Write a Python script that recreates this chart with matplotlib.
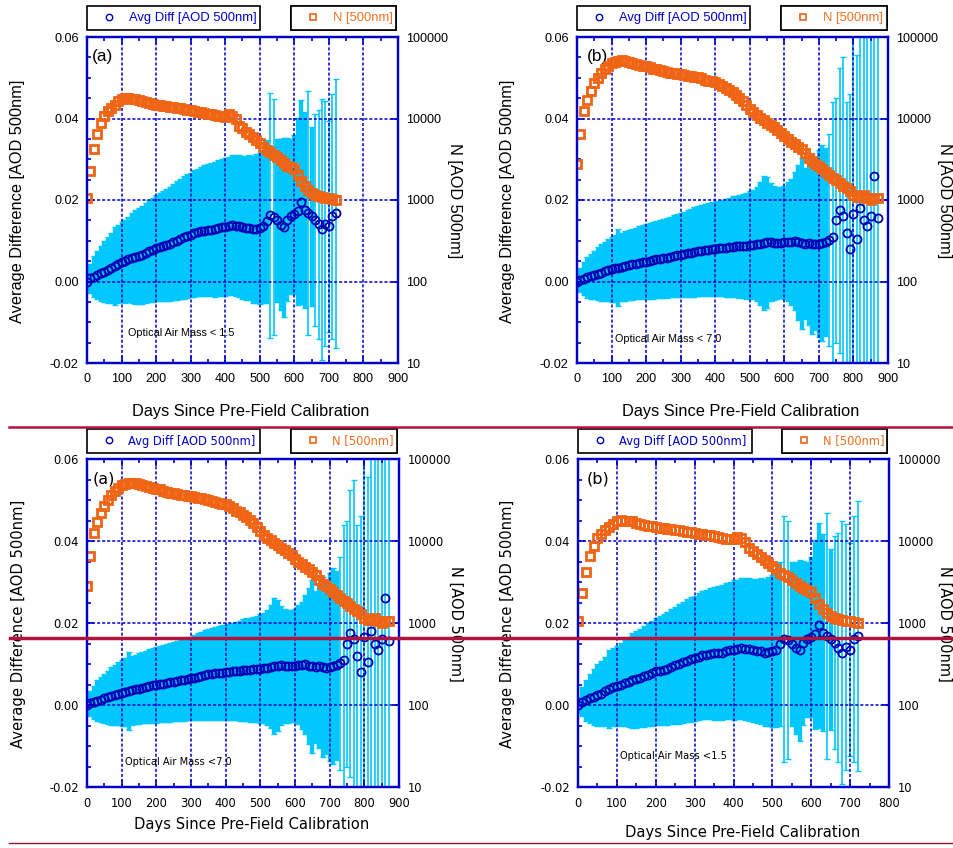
import matplotlib
matplotlib.use("Agg")
import matplotlib.pyplot as plt
from matplotlib.lines import Line2D
from matplotlib.ticker import FixedLocator, MultipleLocator, NullLocator

W, H = 954, 848

# optical air mass < 1.5, read every 10 days
days_15 = list(range(0, 730, 10))
mean_15 = [0.0000, 0.0008, 0.0012, 0.0016, 0.0020, 0.0024, 0.0028, 0.0033, 0.0038, 0.0043,
           0.0047, 0.0050, 0.0054, 0.0057, 0.0060, 0.0063, 0.0066, 0.0070, 0.0074, 0.0078,
           0.0082, 0.0084, 0.0086, 0.0089, 0.0093, 0.0097, 0.0100, 0.0104, 0.0108, 0.0111,
           0.0114, 0.0118, 0.0121, 0.0123, 0.0125, 0.0126, 0.0127, 0.0128, 0.0131, 0.0133,
           0.0134, 0.0136, 0.0138, 0.0137, 0.0136, 0.0133, 0.0131, 0.0132, 0.0128, 0.0130,
           0.0131, 0.0135, 0.0148, 0.0162, 0.0158, 0.0150, 0.0139, 0.0133, 0.0152, 0.0160,
           0.0165, 0.0172, 0.0195, 0.0176, 0.0168, 0.0160, 0.0152, 0.0140, 0.0128, 0.0142,
           0.0135, 0.0160, 0.0168]
std_15 = [0.0020, 0.0035, 0.0050, 0.0060, 0.0068, 0.0075, 0.0080, 0.0085, 0.0095, 0.0095,
          0.0098, 0.0102, 0.0105, 0.0110, 0.0115, 0.0118, 0.0120, 0.0123, 0.0125, 0.0128,
          0.0130, 0.0133, 0.0135, 0.0138, 0.0140, 0.0143, 0.0146, 0.0148, 0.0150, 0.0152,
          0.0153, 0.0155, 0.0156, 0.0158, 0.0160, 0.0162, 0.0163, 0.0165, 0.0166, 0.0168,
          0.0170, 0.0170, 0.0172, 0.0173, 0.0174, 0.0175, 0.0176, 0.0178, 0.0180, 0.0182,
          0.0185, 0.0188, 0.0200, 0.0300, 0.0290, 0.0200, 0.0210, 0.0220, 0.0200, 0.0190,
          0.0195, 0.0230, 0.0250, 0.0240, 0.0300, 0.0220, 0.0260, 0.0280, 0.0320, 0.0300,
          0.0260, 0.0300, 0.0330]
n_15 = [1050, 2300, 4200, 6500, 8800, 10800, 12300, 13600, 14800, 16200,
        17400, 17800, 17600, 17300, 17400, 16800, 16200, 15800, 15400, 15200,
        14800, 14600, 14400, 14100, 13900, 13800, 13600, 13300, 13000, 12800,
        12600, 12300, 12100, 11900, 11700, 11500, 11200, 11000, 10700, 10600,
        10500, 11200, 10800, 9800, 8200, 7600, 6900, 6400, 5900, 5400,
        5000, 4500, 4100, 3850, 3600, 3350, 3100, 2850, 2650, 2550,
        2400, 2000, 1700, 1480, 1330, 1230, 1160, 1110, 1090, 1060,
        1050, 1020, 1000]

# optical air mass < 7.0, read every 10 days
days_70 = list(range(0, 880, 10))
mean_70 = [0.0000, 0.0004, 0.0007, 0.0010, 0.0013, 0.0016, 0.0019, 0.0022, 0.0025, 0.0028,
           0.0030, 0.0032, 0.0034, 0.0036, 0.0038, 0.0040, 0.0042, 0.0044, 0.0046, 0.0048,
           0.0049, 0.0051, 0.0052, 0.0054, 0.0055, 0.0057, 0.0058, 0.0060, 0.0062, 0.0064,
           0.0065, 0.0067, 0.0069, 0.0071, 0.0073, 0.0075, 0.0076, 0.0077, 0.0078, 0.0079,
           0.0080, 0.0081, 0.0082, 0.0083, 0.0084, 0.0085, 0.0086, 0.0086, 0.0087, 0.0088,
           0.0089, 0.0090, 0.0091, 0.0093, 0.0095, 0.0096, 0.0097, 0.0095, 0.0094, 0.0095,
           0.0096, 0.0098, 0.0097, 0.0099, 0.0096, 0.0094, 0.0093, 0.0094, 0.0092, 0.0091,
           0.0093, 0.0095, 0.0097, 0.0102, 0.0110, 0.0150, 0.0175, 0.0160, 0.0120, 0.0080,
           0.0165, 0.0105, 0.0180, 0.0150, 0.0135, 0.0160, 0.0260, 0.0155]
std_70 = [0.0015, 0.0030, 0.0040, 0.0050, 0.0055, 0.0060, 0.0065, 0.0070, 0.0073, 0.0076,
          0.0080, 0.0082, 0.0095, 0.0084, 0.0085, 0.0086, 0.0087, 0.0088, 0.0090, 0.0091,
          0.0092, 0.0093, 0.0094, 0.0095, 0.0096, 0.0097, 0.0098, 0.0099, 0.0100, 0.0101,
          0.0102, 0.0104, 0.0106, 0.0108, 0.0110, 0.0111, 0.0112, 0.0113, 0.0114, 0.0115,
          0.0116, 0.0117, 0.0118, 0.0120, 0.0122, 0.0124, 0.0125, 0.0127, 0.0128, 0.0130,
          0.0132, 0.0134, 0.0140, 0.0150, 0.0165, 0.0160, 0.0145, 0.0140, 0.0138, 0.0136,
          0.0138, 0.0145, 0.0155, 0.0170, 0.0190, 0.0210, 0.0185, 0.0200, 0.0220, 0.0210,
          0.0230, 0.0240, 0.0230, 0.0260, 0.0330, 0.0300, 0.0350, 0.0390, 0.0320, 0.0380,
          0.0500, 0.0450, 0.0550, 0.0480, 0.0520, 0.0450, 0.0600, 0.0500]
n_70 = [2800, 6500, 12500, 17000, 22000, 27000, 31500, 36000, 40500, 44500,
        48000, 50000, 51000, 51500, 51000, 49500, 48000, 47000, 45500, 44500,
        43500, 42500, 41000, 40000, 39000, 38000, 37500, 36500, 36000, 35500,
        35000, 34000, 33500, 33000, 32500, 32000, 31000, 30000, 29000, 28500,
        28000, 26500, 25000, 23500, 22500, 21000, 19500, 18000, 16500, 14800,
        13200, 12000, 11000, 10200, 9500, 8900, 8300, 7800, 7200, 6700,
        6100, 5600, 5200, 4800, 4500, 4200, 3800, 3300, 3000, 2800,
        2600, 2400, 2200, 2000, 1850, 1750, 1600, 1500, 1400, 1300,
        1150, 1100, 1100, 1150, 1050, 1000, 1050, 1050]

left_ticks = [-0.02, 0.0, 0.02, 0.04, 0.06]
left_labels = ["-0.02", "0.00", "0.02", "0.04", "0.06"]
right_ticks = [10, 100, 1000, 10000, 100000]
right_labels = ["10", "100", "1000", "10000", "100000"]

AXBLUE = "#0000CC"
CYAN = "#00C8FF"
NAVY = "#0000B4"
ORANGE = "#F06414"
LEGBLUE = "#0000CC"
LEGORANGE = "#F07020"

# font family and sizes: upper pair is Arial-like, lower pair Tahoma-like
TOP = dict(fam="Liberation Sans", tick=9.1, lab=11.8, rlab=11.8, leg=9.4, tag=12.4, note=7.8)
BOT = dict(fam="DejaVu Sans", tick=8.3, lab=10.6, rlab=10.5, leg=8.3, tag=11.5, note=7.1)

fig = plt.figure(figsize=(W / 100, H / 100), dpi=100)


def panel(l, t, w, h, days, mean, std, n, tag, tag_x, note, note_xy, xmax, st,
          leg1, leg2, leg_y, xlab_y, xlab_x, ylab_x, rlab_x):
    fam = st["fam"]
    plt.rcParams["font.family"] = fam
    ax = fig.add_axes([l / W, 1 - (t + h) / H, w / W, h / H])
    eb = ax.errorbar(days, mean, yerr=std, fmt="none", ecolor=CYAN, elinewidth=3.1,
                     capsize=2.2, capthick=1, zorder=1)
    # the noisy tail has thin, separate bars
    eb.lines[2][0].set_linewidths([3.1 if s < 0.0255 else 1.2 for s in std])
    ax.plot(days, mean, "o", ms=5.8, mfc="none", mec=NAVY, mew=1.3, zorder=3)
    ax.set_xlim(0, xmax)
    ax.set_ylim(-0.02, 0.06)
    ax.xaxis.set_major_locator(MultipleLocator(100))
    ax.xaxis.set_minor_locator(MultipleLocator(50))
    ax.yaxis.set_major_locator(FixedLocator(left_ticks))
    ax.yaxis.set_minor_locator(MultipleLocator(0.005))
    ax.set_yticklabels(left_labels)
    ax.set_axisbelow(False)
    ax.grid(True, which="major", color=AXBLUE, ls=(0, (2, 1.3)), lw=1.1)
    ax.tick_params(which="both", direction="in", color=AXBLUE, top=True, right=False,
                   labelsize=st["tick"])
    ax.tick_params(which="major", length=5, width=1.2)
    ax.tick_params(which="minor", length=3, width=1.2)
    ax.tick_params(axis="x", pad=7)
    ax.tick_params(axis="y", pad=6)
    for s in ax.spines.values():
        s.set_color(AXBLUE)
        s.set_linewidth(1.6)

    ax2 = ax.twinx()
    ax2.plot(days, n, "s", ms=6.4, mfc="none", mec=ORANGE, mew=2.0)
    ax2.set_yscale("log")
    ax2.set_ylim(10, 100000)
    ax2.yaxis.set_major_locator(FixedLocator(right_ticks))
    ax2.yaxis.set_minor_locator(NullLocator())
    ax2.set_yticklabels(right_labels)
    ax2.tick_params(which="both", direction="in", color=AXBLUE, length=5, width=1.2,
                    labelsize=st["tick"], pad=6)
    for s in ax2.spines.values():
        s.set_color(AXBLUE)
        s.set_linewidth(1.6)

    for lbl in ax.get_xticklabels() + ax.get_yticklabels() + ax2.get_yticklabels():
        lbl.set_fontfamily(fam)

    ax.set_xlabel("Days Since Pre-Field Calibration", fontsize=st["lab"], family=fam)
    ax.xaxis.set_label_coords(xlab_x, (t + h - xlab_y) / h)
    ax.set_ylabel("Average Difference [AOD 500nm]", fontsize=st["lab"], family=fam)
    ax.yaxis.set_label_coords((ylab_x - l) / w, 0.497)
    ax2.set_ylabel("N [AOD 500nm]", fontsize=st["rlab"], family=fam, rotation=270,
                   va="bottom", rotation_mode="anchor")
    ax2.yaxis.set_label_coords((rlab_x - l) / w, 0.497)

    ax.text(tag_x, 0.939, tag, transform=ax.transAxes,
            fontsize=st["tag"], family=fam, ha="left", va="center")
    ax.text(note_xy[0], note_xy[1], note, fontsize=st["note"], family=fam,
            ha="left", va="center", zorder=4)

    handles = [Line2D([], [], ls="none", marker="o", ms=4.6, mfc="none", mec=NAVY, mew=1.0),
               Line2D([], [], ls="none", marker="s", ms=4.6, mfc="none", mec=ORANGE, mew=1.2)]
    texts = ["Avg Diff [AOD 500nm]", "N [500nm]"]
    cols = [LEGBLUE, LEGORANGE]
    hl = 2.4 * 9.7 / st["leg"]
    for (x0, x1), hd, tx, c in zip([leg1, leg2], handles, texts, cols):
        bx0 = (x0 - l) / w
        bw = (x1 - x0) / w
        by0 = (t + h - leg_y[1]) / h
        bh = (leg_y[1] - leg_y[0]) / h
        leg = ax.legend([hd], [tx], loc="center", bbox_to_anchor=(bx0, by0, bw, bh),
                        mode="expand", borderaxespad=0, fancybox=False, edgecolor="black",
                        framealpha=1, labelcolor=c, handlelength=hl, handletextpad=0.3,
                        borderpad=0.42 * 9.7 / st["leg"], prop={"family": fam, "size": st["leg"]})
        leg.get_frame().set_linewidth(1.2)
        ax.add_artist(leg)
    return ax


panel(87, 37, 311, 326, days_15, mean_15, std_15, n_15, "(a)", 0.016,
      "Optical Air Mass < 1.5", (119, -0.0126), 900, TOP,
      (87, 260), (291, 396), (6, 30), 404, 0.526, 25, 447)
panel(577, 37, 311, 326, days_70, mean_70, std_70, n_70, "(b)", 0.032,
      "Optical Air Mass < 7.0", (110, -0.0141), 900, TOP,
      (577, 750), (781, 887), (6, 30), 404, 0.527, 515, 937)
panel(87, 459, 312, 328, days_70, mean_70, std_70, n_70, "(a)", 0.018,
      "Optical Air Mass <7.0", (110, -0.0139), 900, BOT,
      (87, 260), (291, 397), (429, 453), 817, 0.527, 26, 448)
panel(578, 459, 311, 328, days_15, mean_15, std_15, n_15, "(b)", 0.029,
      "Optical Air Mass <1.5", (108, -0.0124), 800, BOT,
      (578, 752), (782, 887), (429, 453), 825, 0.529, 515, 937)

# separator lines of the page
fig.add_artist(Line2D([9 / W, 1], [1 - 427.5 / H] * 2, color="#B3123C", lw=1.8))
fig.add_artist(Line2D([10 / W, 1], [1 - 638 / H] * 2, color="#B3123C", lw=2.5))
fig.add_artist(Line2D([9 / W, 1], [1 - 843 / H] * 2, color="#8E1B2E", lw=1.0))

fig.savefig("out.png", dpi=100)
